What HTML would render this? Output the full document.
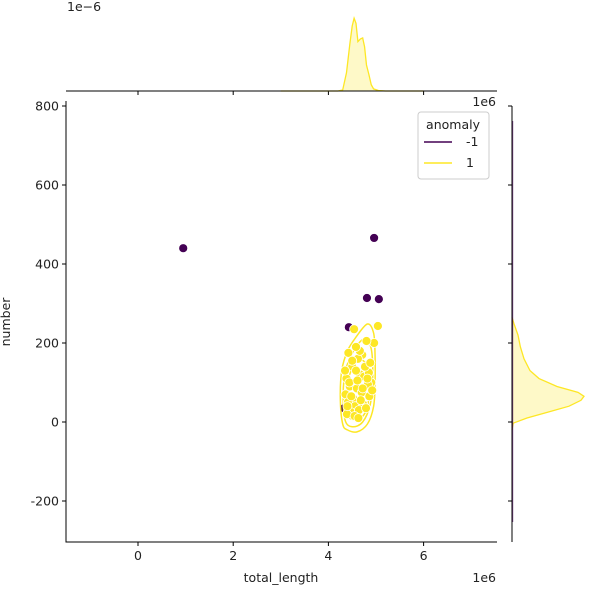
<!DOCTYPE html>
<html><head><meta charset="utf-8"><style>
body{margin:0;background:#fff;font-family:"Liberation Sans","DejaVu Sans",sans-serif}
svg text{font-family:"DejaVu Sans","Liberation Sans",sans-serif;font-size:12.5px;fill:#222}
</style></head><body>
<svg id="c" width="600" height="600"></svg>
<script>
const purpleX=[0.95,4.96,4.81,5.06,4.43,4.33];
const purpleY=[440,466,314,311,240,35];
const yellowX=[4.54,5.04,4.71,4.96,4.42,4.62,4.80,4.88,4.50,4.67,4.38,4.58,4.75,4.90,4.45,4.60,4.83,4.36,4.52,4.70,4.86,4.41,4.56,4.73,4.92,4.47,4.64,4.79,4.39,4.55,4.68,4.85,4.44,4.61,4.77,4.50,4.66,4.58,4.35,4.72,4.82,4.48,4.63,4.88,4.40];
const yellowY=[235,243,170,200,175,160,205,150,140,120,110,130,115,100,90,85,95,70,60,75,65,50,40,45,80,25,30,35,20,15,55,125,100,105,140,155,180,190,130,85,110,65,10,150,40];
const contourOuter=[[4.3,-5],[4.25,60],[4.28,130],[4.4,180],[4.58,215],[4.82,248],[4.95,225],[4.98,170],[4.98,100],[4.95,40],[4.82,-5],[4.6,-25],[4.4,-20]];
const contourMid=[[4.35,5],[4.31,70],[4.36,130],[4.52,178],[4.75,210],[4.9,185],[4.93,110],[4.88,45],[4.72,0],[4.5,-12]];
const contourInner=[[4.4,20],[4.38,80],[4.47,128],[4.66,158],[4.84,135],[4.86,75],[4.78,25],[4.58,5]];
const topKdeX=[3.0,4.2,4.3,4.38,4.45,4.5,4.54,4.58,4.62,4.67,4.72,4.76,4.8,4.85,4.9,4.95,5.05,5.2,6.0];
const topKdeY=[0,0,0.02,0.35,0.9,1.25,1.4,1.3,0.95,1.0,1.02,0.85,0.5,0.32,0.12,0.04,0.01,0,0];
const rightKdeY=[-20,-3,10,25,40,55,65,75,90,110,130,160,190,220,250,265];
const rightKdeD=[0,0.02,0.25,0.6,0.95,1.15,1.2,1.1,0.75,0.45,0.3,0.2,0.14,0.1,0.03,0];
const xTicks=[0,2,4,6];
const yTicks=[-200,0,200,400,600,800];

const NS="http://www.w3.org/2000/svg",svg=document.getElementById('c');
function el(t,a,p){const e=document.createElementNS(NS,t);for(const k in a)e.setAttribute(k,a[k]);(p||svg).appendChild(e);return e;}
const L=66,R=497,T=101,B=542;
const xs=v=>138+v*47.6;
const ys=v=>422-v*0.395;
const topBase=91,topS=d=>topBase-d*52;
const rightBase=512,rightS=d=>rightBase+d*60;
const P='#440154',Y='#fde725';

function smooth(pts){let d='';const n=pts.length;
 for(let i=0;i<n;i++){const p0=pts[(i-1+n)%n],p1=pts[i],p2=pts[(i+1)%n],p3=pts[(i+2)%n];
  if(i===0)d+=`M${p1[0]},${p1[1]}`;
  d+=`C${p1[0]+(p2[0]-p0[0])/6},${p1[1]+(p2[1]-p0[1])/6} ${p2[0]-(p3[0]-p1[0])/6},${p2[1]-(p3[1]-p1[1])/6} ${p2[0]},${p2[1]}`;}
 return d+'Z';}

// anomaly points first (drawn beneath)
purpleX.forEach((x,i)=>{const e=el('circle',{cx:xs(x),cy:ys(purpleY[i]),r:4.5,fill:P,stroke:'#fff','stroke-width':0.8});
 
 });
// contours
[contourOuter,contourMid,contourInner].forEach((c,i)=>{
 const e=el('path',{d:smooth(c.map(p=>[xs(p[0]),ys(p[1])])),fill:'none',stroke:Y,'stroke-width':1.5});
 
 
});
yellowX.forEach((x,i)=>{const e=el('circle',{cx:xs(x),cy:ys(yellowY[i]),r:4.5,fill:Y,stroke:'#fff','stroke-width':0.8});
 
 });

// main axes
let ax=el('path',{d:`M${L},${T}V${B}H${R}`,fill:'none',stroke:'#000','stroke-width':1});


xTicks.forEach(t=>{el('line',{x1:xs(t),x2:xs(t),y1:B,y2:B+4,stroke:'#000'});
 const e=el('text',{x:xs(t),y:B+18,'text-anchor':'middle'});e.textContent=t;
 
 
 el('line',{x1:xs(t),x2:xs(t),y1:topBase,y2:topBase+4,stroke:'#000'});});
yTicks.forEach(t=>{el('line',{x1:L-4,x2:L,y1:ys(t),y2:ys(t),stroke:'#000'});
 const e=el('text',{x:L-7,y:ys(t)+4.5,'text-anchor':'end'});e.textContent=t;
 
 
 el('line',{x1:rightBase-4,x2:rightBase,y1:ys(t),y2:ys(t),stroke:'#000'});});
let t1=el('text',{x:281,y:582,'text-anchor':'middle'});t1.textContent='total_length';

let t2=el('text',{x:10,y:322,'text-anchor':'middle',transform:'rotate(-90 10 322)'});t2.textContent='number';

let t3=el('text',{x:496,y:582,'text-anchor':'end'});t3.textContent='1e6';


// top marginal
let tp=[[xs(topKdeX[0]),topBase]];topKdeX.forEach((x,i)=>tp.push([xs(x),topS(topKdeY[i])]));
let tpath='M'+tp.map(p=>p.join(',')).join('L');
el('path',{d:tpath+`L${xs(topKdeX[topKdeX.length-1])},${topBase}Z`,fill:Y,'fill-opacity':0.25,stroke:'none'});
let tl=el('path',{d:'M'+tp.slice(1).map(p=>p.join(',')).join('L'),fill:'none',stroke:Y,'stroke-width':1.3});

el('line',{x1:L,x2:R,y1:topBase,y2:topBase,stroke:'#000'});
let t4=el('text',{x:67,y:11});t4.textContent='1e\u22126';

let t5=el('text',{x:496,y:106,'text-anchor':'end'});t5.textContent='1e6';


// right marginal
let rp=rightKdeY.map((y,i)=>[rightS(rightKdeD[i]),ys(y)]);
el('path',{d:'M'+rp.map(p=>p.join(',')).join('L')+'Z',fill:Y,'fill-opacity':0.25,stroke:'none'});
let rl=el('path',{d:'M'+rp.map(p=>p.join(',')).join('L'),fill:'none',stroke:Y,'stroke-width':1.3});

el('line',{x1:rightBase,x2:rightBase,y1:T+5,y2:B,stroke:'#000'});
let pl=el('line',{x1:rightBase+0.8,x2:rightBase+0.8,y1:T+20,y2:B-20,stroke:P,'stroke-width':0.8,'stroke-opacity':0.7});


// legend
const g=el('g',{});
el('rect',{x:418,y:112,width:71,height:67,rx:3,fill:'#fff','fill-opacity':0.8,stroke:'#ccc'},g);
let lt=el('text',{x:453,y:129,'text-anchor':'middle'},g);lt.textContent='anomaly';
[['-1',P,146],['1',Y,167]].forEach(([lab,c,y])=>{
 const e=el('line',{x1:424,x2:452,y1:y-4,y2:y-4,stroke:c,'stroke-width':1.5},g);
 
 const t=el('text',{x:466,y:y},g);t.textContent=lab;});
</script>
</body></html>
